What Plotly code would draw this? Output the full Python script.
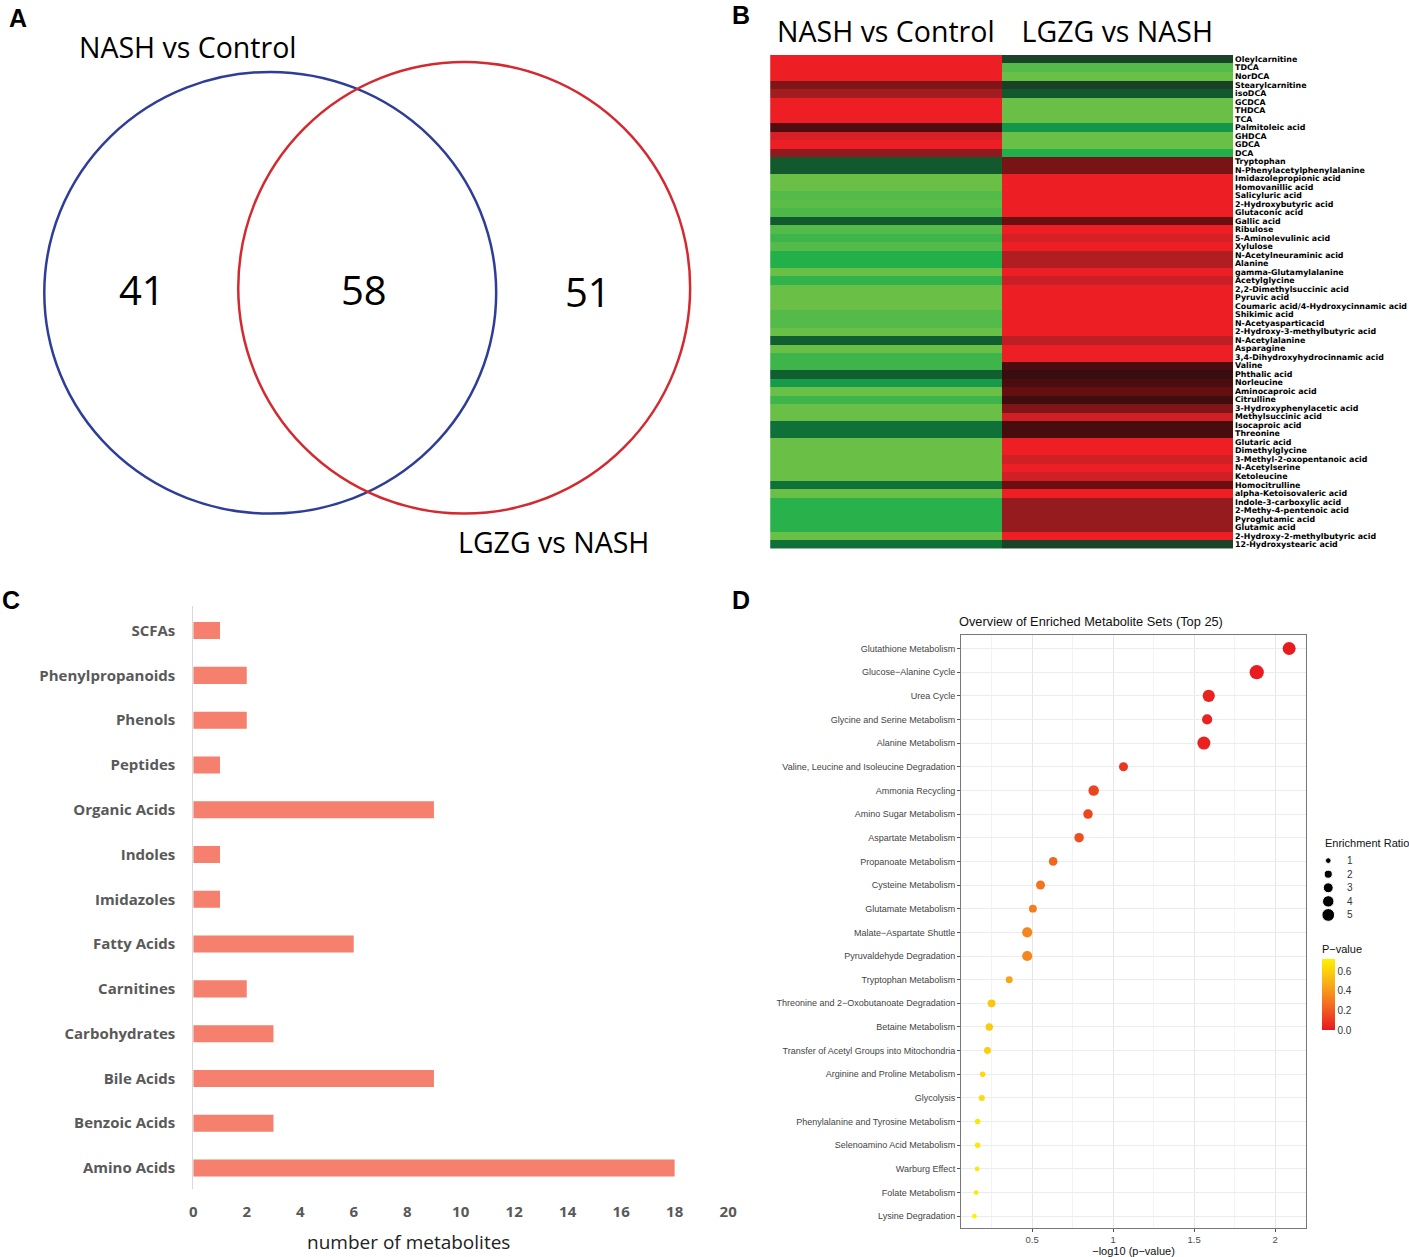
import plotly.graph_objects as go
import numpy as np

W, H = 1409, 1257
# horizontal mapping from target pixel to paper coordinate (the capture squeezes x slightly)
def fx(p): return (p - 3.7) / 0.991 / W
def fy(p): return 1 - p / H

# ---------------- Panel A: Venn counts ----------------
venn_sets = ["NASH vs Control", "LGZG vs NASH"]
venn_counts = [41, 58, 51]  # only NASH, shared, only LGZG

# ---------------- Panel B: heatmap ----------------
heat_columns = ["NASH vs Control", "LGZG vs NASH"]
metabolites = [
    "Oleylcarnitine", "TDCA", "NorDCA", "Stearylcarnitine", "isoDCA", "GCDCA", "THDCA", "TCA",
    "Palmitoleic acid", "GHDCA", "GDCA", "DCA", "Tryptophan", "N-Phenylacetylphenylalanine",
    "Imidazolepropionic acid", "Homovanillic acid", "Salicyluric acid", "2-Hydroxybutyric acid",
    "Glutaconic acid", "Gallic acid", "Ribulose", "5-Aminolevulinic acid", "Xylulose",
    "N-Acetylneuraminic acid", "Alanine", "gamma-Glutamylalanine", "Acetylglycine",
    "2,2-Dimethylsuccinic acid", "Pyruvic acid", "Coumaric acid/4-Hydroxycinnamic acid",
    "Shikimic acid", "N-Acetyasparticacid", "2-Hydroxy-3-methylbutyric acid", "N-Acetylalanine",
    "Asparagine", "3,4-Dihydroxyhydrocinnamic acid", "Valine", "Phthalic acid", "Norleucine",
    "Aminocaproic acid", "Citrulline", "3-Hydroxyphenylacetic acid", "Methylsuccinic acid",
    "Isocaproic acid", "Threonine", "Glutaric acid", "Dimethylglycine",
    "3-Methyl-2-oxopentanoic acid", "N-Acetylserine", "Ketoleucine", "Homocitrulline",
    "alpha-Ketoisovaleric acid", "Indole-3-carboxylic acid", "2-Methy-4-pentenoic acid",
    "Pyroglutamic acid", "Glutamic acid", "2-Hydroxy-2-methylbutyric acid", "12-Hydroxystearic acid",
]
nash_vs_control = [3, 3, 3, 1.3, 1.8, 3, 3, 3, 0.6, 2.6, 3, 1.5,
                   -0.5, -0.5, -3, -3, -2.7, -2.8, -2.6, -0.5,
                   -2.7, -2.4, -2.7, -2, -2, -3, -2.2,
                   -3, -3, -3, -2.7, -2.7, -3, -0.6, -3, -2.4, -2.4, -0.6, -1.6, -3, -2.4, -3, -3,
                   -1, -1, -3, -3, -3, -3, -3, -1, -3, -2.1, -2.1, -2.1, -2.1, -3, -1]
lgzg_vs_nash = [-0.2, -2.7, -3, -0.15, -0.5, -3, -3, -3, -1.5, -3, -3, -2,
                1.2, 1.2, 3, 3, 3, 3, 3, 1,
                3, 2.6, 3, 2, 2, 3, 2.4,
                3, 3, 3, 3, 3, 3, 2.2, 3, 3, 0.5, 0.2, 0.5, 0.9, 0.35, 1.3, 2.5,
                0.45, 0.45, 3, 3, 2.5, 3, 2.5, 1, 3, 1.6, 1.6, 1.6, 1.6, 3, -0.2]

# ---------------- Panel C: class counts ----------------
classes = ["SCFAs", "Phenylpropanoids", "Phenols", "Peptides", "Organic Acids", "Indoles",
           "Imidazoles", "Fatty Acids", "Carnitines", "Carbohydrates", "Bile Acids",
           "Benzoic Acids", "Amino Acids"]
class_counts = [1, 2, 2, 1, 9, 1, 1, 6, 2, 3, 9, 3, 18]
c_ticks = [0, 2, 4, 6, 8, 10, 12, 14, 16, 18, 20]

# ---------------- Panel D: enrichment ----------------
pathways = [
    "Glutathione Metabolism", "Glucose−Alanine Cycle", "Urea Cycle", "Glycine and Serine Metabolism",
    "Alanine Metabolism", "Valine, Leucine and Isoleucine Degradation", "Ammonia Recycling",
    "Amino Sugar Metabolism", "Aspartate Metabolism", "Propanoate Metabolism", "Cysteine Metabolism",
    "Glutamate Metabolism", "Malate−Aspartate Shuttle", "Pyruvaldehyde Degradation",
    "Tryptophan Metabolism", "Threonine and 2−Oxobutanoate Degradation", "Betaine Metabolism",
    "Transfer of Acetyl Groups into Mitochondria", "Arginine and Proline Metabolism", "Glycolysis",
    "Phenylalanine and Tyrosine Metabolism", "Selenoamino Acid Metabolism", "Warburg Effect",
    "Folate Metabolism", "Lysine Degradation",
]
neg_log10_p = [2.086, 1.886, 1.59, 1.58, 1.56, 1.064, 0.88, 0.845, 0.79, 0.63, 0.552, 0.505,
               0.47, 0.47, 0.359, 0.25, 0.236, 0.225, 0.195, 0.19, 0.164, 0.164, 0.161, 0.155, 0.144]
enrichment_ratio = [5.2, 6.2, 4.6, 3.2, 5.2, 2.5, 3.4, 2.8, 2.8, 2.3, 2.5, 1.9,
                    3.2, 3.2, 1.5, 1.9, 1.7, 1.5, 0.93, 1.1, 0.93, 0.93, 0.7, 0.7, 0.7]
er_legend = [1, 2, 3, 4, 5]
pval_ticks = [0.0, 0.2, 0.4, 0.6]
pval_range = [0.0, 0.72]

p_values = [10 ** (-v) for v in neg_log10_p]
def er_size(e): return 5.7 * np.sqrt(np.array(e, dtype=float))

fig = go.Figure()

# Panel C bars
fig.add_trace(go.Bar(
    x=class_counts, y=classes, orientation="h", width=0.38,
    marker=dict(color="#F4806D", line=dict(width=0)),
    xaxis="x", yaxis="y", showlegend=False,
))

# Panel B heatmap
heat_cs = [
    [0.0, "#6abf47"], [0.1, "#3db54a"], [0.1667, "#22b04b"], [0.25, "#12964a"],
    [0.3333, "#0f7038"], [0.4167, "#125a2e"], [0.475, "#1a4026"], [0.5, "#2a1010"],
    [0.5833, "#4a0c0e"], [0.6667, "#6a0e10"], [0.75, "#8e1a1e"], [0.8333, "#b01e22"],
    [0.9167, "#d02026"], [1.0, "#ed1f24"],
]
z = np.array([nash_vs_control, lgzg_vs_nash]).T
fig.add_trace(go.Heatmap(
    z=z, x=heat_columns, y=metabolites, colorscale=heat_cs, zmin=-3, zmax=3,
    showscale=False, xaxis="x2", yaxis="y2", xgap=0, ygap=0,
))

# Panel D dots
fig.add_trace(go.Scatter(
    x=neg_log10_p, y=pathways, mode="markers", xaxis="x3", yaxis="y3", showlegend=False,
    marker=dict(
        size=er_size(enrichment_ratio), color=p_values, opacity=1,
        colorscale=[[0, "#e8191f"], [0.35, "#f26b21"], [0.65, "#f8ad19"], [1, "#fff000"]],
        cmin=pval_range[0], cmax=pval_range[1], line=dict(width=0),
        colorbar=dict(
            x=fx(1322), xanchor="left", y=fy(1031), yanchor="bottom",
            lenmode="pixels", len=88, thickness=13, thicknessmode="pixels",
            xpad=0, ypad=0, outlinewidth=0, ticks="",
            tickvals=pval_ticks, ticktext=[f"{t:.1f}" for t in pval_ticks],
            tickfont=dict(family="Liberation Sans", size=10, color="#333333"),
            title=dict(text="P−value", side="top",
                       font=dict(family="Liberation Sans", size=11, color="#111111")),
        ),
    ),
))

# Enrichment ratio size legend
fig.add_trace(go.Scatter(
    x=[0] * len(er_legend), y=er_legend, mode="markers", xaxis="x4", yaxis="y4",
    showlegend=False, marker=dict(size=er_size(er_legend), color="black", opacity=1),
))

axis_off = dict(showgrid=False, zeroline=False, showticklabels=False, showline=False)

fig.update_layout(
    width=W, height=H, autosize=False, margin=dict(l=0, r=0, t=0, b=0, pad=0),
    paper_bgcolor="white", plot_bgcolor="white", showlegend=False,
    # Panel C
    xaxis=dict(domain=[fx(193), fx(728)], range=[0, 20], tickvals=c_ticks,
               showgrid=False, zeroline=False, showline=False, ticks="",
               tickfont=dict(family="Open Sans", size=15, color="#595959", weight="bold"),
               ticklabelstandoff=12, anchor="y"),
    yaxis=dict(domain=[fy(1190), fy(606)], type="category", categoryorder="array",
               categoryarray=classes, range=[12.47, -0.56], anchor="x",
               showgrid=False, zeroline=False, showline=True, linecolor="#d9d9d9", linewidth=1,
               ticks="", ticklabelstandoff=14,
               tickfont=dict(family="Open Sans", size=15, color="#595959", weight="bold")),
    # Panel B
    xaxis2=dict(domain=[fx(770), fx(1233)], side="top", anchor="y2", showgrid=False,
                zeroline=False, ticks="", ticklabelstandoff=6,
                tickfont=dict(family="Open Sans", size=28.5, color="black")),
    yaxis2=dict(domain=[fy(549), fy(55)], autorange="reversed", side="right", anchor="x2",
                showgrid=False, zeroline=False, ticks="", ticklabelstandoff=1,
                tickmode="array", tickvals=metabolites,
                ticktext=[f"<b>{m}</b>" for m in metabolites],
                tickfont=dict(family="DejaVu Sans", size=7.9, color="black")),
    # Panel D
    xaxis3=dict(domain=[fx(961), fx(1306)], range=[0.062, 2.19], anchor="y3",
                tick0=0, dtick=0.5, showgrid=True, gridcolor="#e6e6e6", gridwidth=1,
                minor=dict(dtick=0.25, tick0=0, showgrid=True, gridcolor="#f3f3f3", gridwidth=1),
                zeroline=False, showline=True, mirror=True, linecolor="#777777", linewidth=1,
                ticks="outside", ticklen=3, tickcolor="#555555",
                tickfont=dict(family="Liberation Sans", size=9.5, color="#4d4d4d"),
                title=dict(text="−log10 (p−value)", standoff=2,
                           font=dict(family="Liberation Sans", size=11, color="#111111"))),
    yaxis3=dict(domain=[fy(1229), fy(636)], type="category", categoryorder="array",
                categoryarray=pathways, range=[24.5, -0.55], anchor="x3",
                showgrid=True, gridcolor="#ececec", zeroline=False,
                showline=True, mirror=True, linecolor="#777777", linewidth=1,
                ticks="outside", ticklen=3, tickcolor="#555555",
                tickfont=dict(family="Liberation Sans", size=9, color="#444444")),
    # size legend axes
    xaxis4=dict(domain=[fx(1320), fx(1342)], range=[-0.6, 1.0], anchor="y4", **axis_off),
    yaxis4=dict(domain=[fy(922.5), fy(854.5)], range=[5.5, 0.5], anchor="x4", side="right",
                showgrid=False, zeroline=False, showline=False, ticks="",
                tickvals=er_legend, ticklabelstandoff=4,
                tickfont=dict(family="Liberation Sans", size=10, color="#333333")),
)

# Venn circles
fig.add_shape(type="circle", xref="paper", yref="paper",
              x0=fx(44), x1=fx(496), y0=fy(514), y1=fy(72),
              line=dict(color="#2e3d98", width=2.5))
fig.add_shape(type="circle", xref="paper", yref="paper",
              x0=fx(238), x1=fx(690), y0=fy(514), y1=fy(62),
              line=dict(color="#d42a2f", width=2.5))

def label(px, py, text, font, xanchor="center"):
    fig.add_annotation(x=fx(px), y=fy(py), xref="paper", yref="paper", text=text,
                       showarrow=False, xanchor=xanchor, yanchor="middle", font=font)

venn_pos = [(142, 290), (364, 290), (588, 292)]
for (px, py), cnt in zip(venn_pos, venn_counts):
    label(px, py, str(cnt), dict(family="Open Sans", size=40, color="black"))
for (px, py), name in zip([(187, 47), (553, 542)], venn_sets):
    label(px, py, name, dict(family="Open Sans", size=28.5, color="black"))

# Panel C axis title
label(408, 1243, "number of metabolites", dict(family="Open Sans", size=19, color="#222222"))

# Panel D titles
label(1091, 622, "Overview of Enriched Metabolite Sets (Top 25)",
      dict(family="Liberation Sans", size=12.8, color="#111111"))
label(1323, 844, "Enrichment Ratio", dict(family="Liberation Sans", size=11, color="#111111"),
      xanchor="left")

# Panel letters
for letter, (px, py) in zip("ABCD", [(18, 18), (741, 15), (11, 600), (741, 600)]):
    label(px, py, f"<b>{letter}</b>", dict(family="Liberation Sans", size=25, color="black"))

fig.write_html(
    "out.html",
    config={"displayModeBar": False, "responsive": False},
    post_script="document.body.style.margin='0';document.body.style.overflow='hidden';",
)
